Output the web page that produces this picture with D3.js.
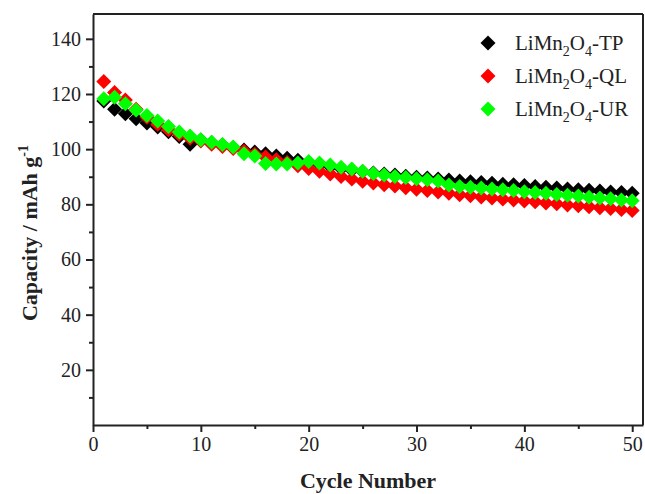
<!DOCTYPE html>
<html>
<head>
<meta charset="utf-8">
<script src="https://cdn.jsdelivr.net/npm/d3@7"></script>
<style>
  html, body { margin: 0; padding: 0; background: #fff; }
  svg { display: block; font-family: "Liberation Serif", "Times New Roman", serif; }
</style>
</head>
<body>
<svg id="chart" width="645" height="494"></svg>
<script>
// Discharge capacity vs. cycle number for three LiMn2O4 samples
const cycles = d3.range(1, 51);

const capacityTP = [
  117.5, 114.5, 112.8, 111.0, 109.5, 108.0, 106.3, 104.6, 101.8, 103.3,
  102.4, 101.5, 100.5, 99.7, 99.0, 98.3, 97.5, 96.7, 96.0, 95.2,
  94.5, 93.7, 93.0, 92.4, 91.9, 91.4, 91.0, 90.6, 90.2, 89.8,
  89.5, 89.2, 88.8, 88.5, 88.2, 87.9, 87.6, 87.3, 87.1, 86.8,
  86.5, 86.2, 85.9, 85.6, 85.3, 85.1, 84.8, 84.5, 84.3, 84.0
];
const capacityQL = [
  124.5, 120.5, 117.8, 114.5, 111.6, 109.0, 107.0, 105.4, 104.0, 103.0,
  101.8, 101.0, 100.2, 99.2, 98.2, 97.2, 96.2, 95.2, 94.0, 93.0,
  92.0, 91.0, 90.1, 89.2, 88.4, 87.7, 87.1, 86.6, 86.0, 85.5,
  85.0, 84.5, 84.0, 83.5, 83.1, 82.7, 82.3, 81.9, 81.6, 81.2,
  80.9, 80.5, 80.2, 79.8, 79.5, 79.1, 78.8, 78.5, 78.1, 77.8
];
const capacityUR = [
  118.3, 118.8, 116.5, 114.2, 112.2, 110.2, 108.2, 106.2, 104.8, 103.4,
  102.5, 101.7, 100.8, 98.3, 97.5, 94.8, 94.6, 94.6, 95.0, 95.5,
  95.0, 94.3, 93.4, 92.8, 92.0, 91.2, 90.6, 90.1, 89.7, 89.3,
  88.9, 88.5, 87.0, 86.5, 86.2, 85.9, 85.6, 85.3, 85.0, 84.6,
  84.3, 84.0, 83.6, 83.3, 83.0, 82.6, 82.3, 82.0, 81.6, 81.3
];

const seriesNames = ["TP", "QL", "UR"];
const seriesColors = ["#000000", "#ff0000", "#00ff00"];
const seriesValues = [capacityTP, capacityQL, capacityUR];

const xTickValues = [0, 10, 20, 30, 40, 50];
const xMinorTicks = [5, 15, 25, 35, 45];
const yTickValues = [20, 40, 60, 80, 100, 120, 140];
const yMinorTicks = [10, 30, 50, 70, 90, 110, 130];

const svg = d3.select("#chart");
const margin = { left: 93, top: 14, right: 2, bottom: 69 };
const W = 645, H = 494;
const x = d3.scaleLinear().domain([0, 51]).range([margin.left, W - margin.right]);
const y = d3.scaleLinear().domain([0, 149]).range([H - margin.bottom, margin.top]);

// diamond marker: square rotated 45 degrees
const diamond = r => `M0,${-r}L${r},0L0,${r}L${-r},0Z`;
const R = 7.5;

// data markers
seriesValues.forEach((vals, i) => {
  svg.append("g")
    .selectAll("path")
    .data(cycles.map((c, k) => [c, vals[k]]))
    .join("path")
    .attr("d", diamond(R))
    .attr("transform", d => `translate(${x(d[0])},${y(d[1])})`)
    .attr("fill", seriesColors[i]);
});

// frame and axes
const axisStyle = g => {
  g.selectAll("path.domain").attr("stroke", "#222").attr("stroke-width", 2);
  g.selectAll(".tick line").attr("stroke", "#222").attr("stroke-width", 2);
  g.selectAll(".tick text").attr("font-family", "Liberation Serif, Times New Roman, serif")
    .attr("font-size", 20).attr("fill", "#222");
};

const xAxis = svg.append("g").attr("transform", `translate(0,${y(0)})`)
  .call(d3.axisBottom(x).tickValues(xTickValues).tickSize(7).tickPadding(5).tickSizeOuter(0));
axisStyle(xAxis);
svg.append("g").attr("transform", `translate(0,${y(0)})`)
  .call(d3.axisBottom(x).tickValues(xMinorTicks).tickSize(4).tickFormat("").tickSizeOuter(0))
  .call(g => { g.select("path.domain").remove(); g.selectAll("line").attr("stroke", "#222").attr("stroke-width", 2); });

const yAxis = svg.append("g").attr("transform", `translate(${x(0)},0)`)
  .call(d3.axisLeft(y).tickValues(yTickValues).tickSize(7).tickPadding(5).tickSizeOuter(0));
axisStyle(yAxis);
svg.append("g").attr("transform", `translate(${x(0)},0)`)
  .call(d3.axisLeft(y).tickValues(yMinorTicks).tickSize(4).tickFormat("").tickSizeOuter(0))
  .call(g => { g.select("path.domain").remove(); g.selectAll("line").attr("stroke", "#222").attr("stroke-width", 2); });

// top and right borders
svg.append("line").attr("x1", x(0)).attr("x2", x(51)).attr("y1", y(149)).attr("y2", y(149))
  .attr("stroke", "#222").attr("stroke-width", 2);
svg.append("line").attr("x1", x(51)).attr("x2", x(51)).attr("y1", y(149)).attr("y2", y(0))
  .attr("stroke", "#222").attr("stroke-width", 2);

// axis titles
svg.append("text")
  .attr("x", (x(0) + x(51)) / 2).attr("y", 488)
  .attr("text-anchor", "middle").attr("font-weight", "bold").attr("font-size", 22)
  .attr("fill", "#222")
  .text("Cycle Number");

const yTitle = svg.append("text")
  .attr("transform", "translate(37,233) rotate(-90)")
  .attr("text-anchor", "middle").attr("font-weight", "bold").attr("font-size", 22)
  .attr("fill", "#222");
yTitle.append("tspan").text("Capacity / mAh g");
yTitle.append("tspan").attr("dy", -9).attr("font-size", 14).text("-1");

// legend
const legend = svg.append("g");
seriesNames.forEach((name, i) => {
  const ly = 43 + i * 33;
  legend.append("path").attr("d", diamond(7.5))
    .attr("transform", `translate(488,${ly})`).attr("fill", seriesColors[i]);
  const t = legend.append("text").attr("x", 515).attr("y", ly + 7)
    .attr("font-size", 21).attr("fill", "#222");
  t.append("tspan").text("LiMn");
  t.append("tspan").attr("dy", 6).attr("font-size", 14).text("2");
  t.append("tspan").attr("dy", -6).text("O");
  t.append("tspan").attr("dy", 6).attr("font-size", 14).text("4");
  t.append("tspan").attr("dy", -6).text("-" + name);
});
</script>
</body>
</html>
